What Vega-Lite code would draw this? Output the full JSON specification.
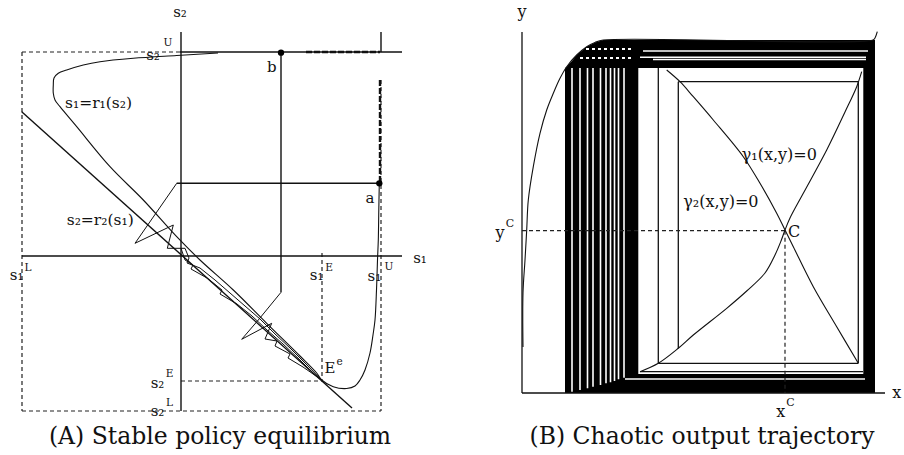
{
  "$schema": "https://vega.github.io/schema/vega-lite/v6.json",
  "padding": 0,
  "spacing": 10,
  "background": "white",
  "config": {"view": {"stroke": null}, "title": {"font": "DejaVu Serif", "fontSize": 23.5, "fontWeight": "normal", "color": "#111"}},
  "datasets": {
    "A_solid": [
      {"s1": -1, "s2": 204, "s1e": 221, "s2e": 204},
      {"s1": 200, "s2": 224, "s1e": 200, "s2e": 204},
      {"s1": 0, "s2": 224, "s1e": 0, "s2e": -155},
      {"s1": -159, "s2": 0, "s1e": 221, "s2e": 0},
      {"s1": 100, "s2": 203.3, "s1e": 100, "s2e": -36.3},
      {"s1": -4.3, "s2": 72.7, "s1e": 198.3, "s2e": 72.7},
      {"s1": -159.3, "s2": 144.3, "s1e": 171, "s2e": -152}
    ],
    "A_dashed": [
      {"s1": -159, "s2": 204, "s1e": -1, "s2e": 204},
      {"s1": -159, "s2": 204, "s1e": -159, "s2e": -155},
      {"s1": -159, "s2": -155, "s1e": 200, "s2e": -155},
      {"s1": 200, "s2": 176, "s1e": 200, "s2e": -155},
      {"s1": 141, "s2": 3, "s1e": 141, "s2e": -125},
      {"s1": 0, "s2": -125, "s1e": 141, "s2e": -125}
    ],
    "A_thick": [
      {"s1": 125, "s2": 204, "s1e": 199, "s2e": 204},
      {"s1": 199, "s2": 176, "s1e": 199, "s2e": 73}
    ],
    "A_curves": [
      {"c": "r1", "i": 1, "s1": 37, "s2": 203},
      {"c": "r1", "i": 2, "s1": -4.3, "s2": 200.5},
      {"c": "r1", "i": 3, "s1": -47.7, "s2": 197.7},
      {"c": "r1", "i": 4, "s1": -81, "s2": 194.3},
      {"c": "r1", "i": 5, "s1": -97.7, "s2": 191},
      {"c": "r1", "i": 6, "s1": -114.3, "s2": 186},
      {"c": "r1", "i": 7, "s1": -122.7, "s2": 182.7},
      {"c": "r1", "i": 8, "s1": -127, "s2": 178},
      {"c": "r1", "i": 9, "s1": -127.7, "s2": 171},
      {"c": "r1", "i": 10, "s1": -127.7, "s2": 162.7},
      {"c": "r1", "i": 11, "s1": -126, "s2": 156},
      {"c": "r1", "i": 12, "s1": -121, "s2": 149.3},
      {"c": "r1", "i": 13, "s1": -104.3, "s2": 129.3},
      {"c": "r1", "i": 14, "s1": -71, "s2": 89.3},
      {"c": "r1", "i": 15, "s1": -37.7, "s2": 56},
      {"c": "r1", "i": 16, "s1": -4.3, "s2": 19.3},
      {"c": "r1", "i": 17, "s1": 19, "s2": -4},
      {"c": "r1", "i": 18, "s1": 52.3, "s2": -34},
      {"c": "r1", "i": 19, "s1": 85.7, "s2": -67.3},
      {"c": "r1", "i": 20, "s1": 119, "s2": -100},
      {"c": "r1", "i": 21, "s1": 135.7, "s2": -117},
      {"c": "r1", "i": 22, "s1": 140.7, "s2": -124},
      {"c": "r1", "i": 23, "s1": 152.3, "s2": -130.7},
      {"c": "r1", "i": 24, "s1": 165.7, "s2": -132.5},
      {"c": "r1", "i": 25, "s1": 174, "s2": -130},
      {"c": "r1", "i": 26, "s1": 179, "s2": -124},
      {"c": "r1", "i": 27, "s1": 184, "s2": -114},
      {"c": "r1", "i": 28, "s1": 189, "s2": -97},
      {"c": "r1", "i": 29, "s1": 192, "s2": -79},
      {"c": "r1", "i": 30, "s1": 194, "s2": -64},
      {"c": "r1", "i": 31, "s1": 195.5, "s2": -34},
      {"c": "r1", "i": 32, "s1": 196.5, "s2": -4},
      {"c": "r1", "i": 33, "s1": 197.3, "s2": 16},
      {"c": "r1", "i": 34, "s1": 197.8, "s2": 46},
      {"c": "r1", "i": 35, "s1": 198.3, "s2": 72.7},
      {"c": "cobA", "i": 1, "s1": -4.3, "s2": 72.7},
      {"c": "cobA", "i": 2, "s1": -46, "s2": 12.7},
      {"c": "cobA", "i": 3, "s1": -7.7, "s2": 31},
      {"c": "cobA", "i": 4, "s1": -13.7, "s2": 7.7},
      {"c": "cobA", "i": 5, "s1": 4, "s2": 7.7},
      {"c": "cobA", "i": 6, "s1": 8, "s2": -2},
      {"c": "cobA", "i": 7, "s1": 6, "s2": -7},
      {"c": "cobA", "i": 8, "s1": 19, "s2": -12},
      {"c": "cobA", "i": 9, "s1": 34, "s2": -24},
      {"c": "cobA", "i": 10, "s1": 49, "s2": -37},
      {"c": "cobA", "i": 11, "s1": 64, "s2": -50},
      {"c": "cobA", "i": 12, "s1": 79, "s2": -63},
      {"c": "cobA", "i": 13, "s1": 94, "s2": -78},
      {"c": "cobA", "i": 14, "s1": 109, "s2": -92},
      {"c": "cobA", "i": 15, "s1": 124, "s2": -107},
      {"c": "cobA", "i": 16, "s1": 140.7, "s2": -124},
      {"c": "cobW", "i": 1, "s1": 0, "s2": 7.7},
      {"c": "cobW", "i": 2, "s1": 4, "s2": -4},
      {"c": "cobW", "i": 3, "s1": 12, "s2": -9},
      {"c": "cobW", "i": 4, "s1": 10, "s2": -13},
      {"c": "cobW", "i": 5, "s1": 26, "s2": -22},
      {"c": "cobW", "i": 6, "s1": 41, "s2": -34},
      {"c": "cobW", "i": 7, "s1": 39, "s2": -38},
      {"c": "cobW", "i": 8, "s1": 56, "s2": -48},
      {"c": "cobW", "i": 9, "s1": 71, "s2": -60},
      {"c": "cobW", "i": 10, "s1": 86, "s2": -74},
      {"c": "cobW", "i": 11, "s1": 102, "s2": -88},
      {"c": "cobW", "i": 12, "s1": 118, "s2": -103},
      {"c": "cobW", "i": 13, "s1": 132, "s2": -117},
      {"c": "cobW", "i": 14, "s1": 140.7, "s2": -124},
      {"c": "cobB", "i": 1, "s1": 100, "s2": -36.3},
      {"c": "cobB", "i": 2, "s1": 77.3, "s2": -64},
      {"c": "cobB", "i": 3, "s1": 60.7, "s2": -83.3},
      {"c": "cobB", "i": 4, "s1": 90.7, "s2": -67.3},
      {"c": "cobB", "i": 5, "s1": 84, "s2": -83},
      {"c": "cobB", "i": 6, "s1": 96, "s2": -85},
      {"c": "cobB", "i": 7, "s1": 94, "s2": -90},
      {"c": "cobB", "i": 8, "s1": 109, "s2": -98},
      {"c": "cobB", "i": 9, "s1": 107, "s2": -102},
      {"c": "cobB", "i": 10, "s1": 122, "s2": -111},
      {"c": "cobB", "i": 11, "s1": 140.7, "s2": -124}
    ],
    "A_points": [
      {"name": "a", "s1": 198.3, "s2": 72.7},
      {"name": "b", "s1": 100, "s2": 203.3}
    ],
    "A_text": [
      {"t": "s₂", "s1": -1, "s2": 244},
      {"t": "s₁", "s1": 239, "s2": -2},
      {"t": "s₂", "s1": -28, "s2": 201},
      {"t": "b", "s1": 90.7, "s2": 189.3},
      {"t": "a", "s1": 189, "s2": 58},
      {"t": "s₁", "s1": -164.3, "s2": -19},
      {"t": "s₁", "s1": 135.7, "s2": -19},
      {"t": "s₁", "s1": 193.3, "s2": -20},
      {"t": "s₂", "s1": -23.5, "s2": -127.3},
      {"t": "s₂", "s1": -23.5, "s2": -155},
      {"t": "E", "s1": 149, "s2": -112.3}
    ],
    "A_textL": [
      {"t": "s₁=r₁(s₂)", "s1": -116, "s2": 152.7},
      {"t": "s₂=r₂(s₁)", "s1": -114.3, "s2": 36}
    ],
    "A_sup": [
      {"t": "U", "s1": -13, "s2": 212.7},
      {"t": "L", "s1": -153, "s2": -12.3},
      {"t": "E", "s1": 148, "s2": -12.3},
      {"t": "U", "s1": 208, "s2": -11.3},
      {"t": "E", "s1": -11.5, "s2": -118},
      {"t": "L", "s1": -11.5, "s2": -147},
      {"t": "e", "s1": 158.5, "s2": -105.7}
    ],
    "B_area": [
      {"x": 43, "y": 325, "y0": 0},
      {"x": 44.7, "y": 326.3, "y0": 0},
      {"x": 50, "y": 332, "y0": 0},
      {"x": 54.7, "y": 338, "y0": 0},
      {"x": 64.7, "y": 346.3, "y0": 0},
      {"x": 73, "y": 350.5, "y0": 0},
      {"x": 81.3, "y": 353, "y0": 0},
      {"x": 116.3, "y": 353, "y0": 0}
    ],
    "B_rect": [
      {"x": 81.3, "xe": 353, "y": 325, "ye": 353},
      {"x": 341.3, "xe": 353, "y": 0, "ye": 353},
      {"x": 98, "xe": 353, "y": 0, "ye": 19}
    ],
    "B_white": [
      {"x": 50, "y": 1.3, "xe": 50, "ye": 325},
      {"x": 58, "y": 3, "xe": 58, "ye": 325},
      {"x": 65.5, "y": 4.7, "xe": 65.5, "ye": 325},
      {"x": 71, "y": 6.3, "xe": 71, "ye": 325},
      {"x": 78.5, "y": 8, "xe": 78.5, "ye": 325},
      {"x": 84, "y": 9.7, "xe": 84, "ye": 325},
      {"x": 88.5, "y": 10.7, "xe": 88.5, "ye": 325},
      {"x": 92.5, "y": 12, "xe": 92.5, "ye": 325},
      {"x": 96.5, "y": 13.7, "xe": 96.5, "ye": 325},
      {"x": 102, "y": 15.3, "xe": 102, "ye": 325},
      {"x": 118, "y": 335.7, "xe": 344, "ye": 335.7},
      {"x": 121, "y": 342, "xe": 346, "ye": 342},
      {"x": 131, "y": 333.5, "xe": 344, "ye": 333.5},
      {"x": 103, "y": 14, "xe": 343, "ye": 14}
    ],
    "B_dots": [
      {"x": 58, "y": 344, "xe": 112, "ye": 344},
      {"x": 58, "y": 335, "xe": 112, "ye": 335}
    ],
    "B_lines": [
      {"x": 136.3, "y": 325, "xe": 136.3, "ye": 29.7},
      {"x": 136.3, "y": 29.7, "xe": 336.3, "ye": 29.7},
      {"x": 336.3, "y": 29.7, "xe": 336.3, "ye": 311.3},
      {"x": 156.3, "y": 311.3, "xe": 336.3, "ye": 311.3},
      {"x": 156.3, "y": 311.3, "xe": 156.3, "ye": 44.7},
      {"x": 118, "y": 21.3, "xe": 341, "ye": 21.3},
      {"x": 0, "y": 361, "xe": 0, "ye": 0},
      {"x": 0, "y": 0, "xe": 363, "ye": 0}
    ],
    "B_dashed": [
      {"x": 0, "y": 162.3, "xe": 263, "ye": 162.3},
      {"x": 263, "y": 162.3, "xe": 263, "ye": 0}
    ],
    "B_curves": [
      {"c": "outer", "i": 1, "x": 1, "y": 46},
      {"c": "outer", "i": 2, "x": 1, "y": 100},
      {"c": "outer", "i": 3, "x": 3, "y": 133},
      {"c": "outer", "i": 4, "x": 4.7, "y": 163},
      {"c": "outer", "i": 5, "x": 6.3, "y": 193},
      {"c": "outer", "i": 6, "x": 11.3, "y": 226.3},
      {"c": "outer", "i": 7, "x": 18, "y": 259.7},
      {"c": "outer", "i": 8, "x": 24.7, "y": 283},
      {"c": "outer", "i": 9, "x": 31.3, "y": 299.7},
      {"c": "outer", "i": 10, "x": 38, "y": 314.7},
      {"c": "outer", "i": 11, "x": 44.7, "y": 326.3},
      {"c": "outer", "i": 12, "x": 54.7, "y": 338},
      {"c": "outer", "i": 13, "x": 64.7, "y": 346.3},
      {"c": "outer", "i": 14, "x": 73, "y": 350.5},
      {"c": "outer", "i": 15, "x": 81.3, "y": 353},
      {"c": "outer", "i": 16, "x": 351, "y": 353},
      {"c": "outer", "i": 17, "x": 353, "y": 355},
      {"c": "outer", "i": 18, "x": 355.3, "y": 361.3},
      {"c": "g1", "i": 1, "x": 144.7, "y": 323},
      {"c": "g1", "i": 2, "x": 158, "y": 311.3},
      {"c": "g1", "i": 3, "x": 171.3, "y": 296.3},
      {"c": "g1", "i": 4, "x": 191.3, "y": 273},
      {"c": "g1", "i": 5, "x": 221.3, "y": 236.3},
      {"c": "g1", "i": 6, "x": 238, "y": 209.7},
      {"c": "g1", "i": 7, "x": 254.7, "y": 179.7},
      {"c": "g1", "i": 8, "x": 263, "y": 163},
      {"c": "g1", "i": 9, "x": 271.3, "y": 146.3},
      {"c": "g1", "i": 10, "x": 291.3, "y": 106.3},
      {"c": "g1", "i": 11, "x": 314.7, "y": 66.3},
      {"c": "g1", "i": 12, "x": 336.3, "y": 29.7},
      {"c": "g2", "i": 1, "x": 339.7, "y": 321.3},
      {"c": "g2", "i": 2, "x": 334.7, "y": 306.3},
      {"c": "g2", "i": 3, "x": 323, "y": 281},
      {"c": "g2", "i": 4, "x": 304.7, "y": 243},
      {"c": "g2", "i": 5, "x": 281.3, "y": 199.7},
      {"c": "g2", "i": 6, "x": 268, "y": 175},
      {"c": "g2", "i": 7, "x": 263, "y": 163},
      {"c": "g2", "i": 8, "x": 259, "y": 152},
      {"c": "g2", "i": 9, "x": 253, "y": 138},
      {"c": "g2", "i": 10, "x": 243, "y": 120},
      {"c": "g2", "i": 11, "x": 224.7, "y": 102},
      {"c": "g2", "i": 12, "x": 204.7, "y": 84.7},
      {"c": "g2", "i": 13, "x": 171.3, "y": 58},
      {"c": "g2", "i": 14, "x": 156.3, "y": 44.7},
      {"c": "g2", "i": 15, "x": 136.3, "y": 29.7},
      {"c": "g2", "i": 16, "x": 118, "y": 21.3}
    ],
    "B_text": [
      {"t": "y", "x": 0, "y": 381},
      {"t": "x", "x": 374.7, "y": 0},
      {"t": "y", "x": -22, "y": 159.7},
      {"t": "x", "x": 258.7, "y": -18.7}
    ],
    "B_textL": [
      {"t": "C", "x": 266, "y": 161.3},
      {"t": "γ₁(x,y)=0", "x": 219.7, "y": 238},
      {"t": "γ₂(x,y)=0", "x": 161.3, "y": 191.3}
    ],
    "B_sup": [
      {"t": "C", "x": -12, "y": 169.5},
      {"t": "C", "x": 268.5, "y": -10.3}
    ]
  },
  "hconcat": [
    {
      "width": 450,
      "height": 420,
      "title": {"text": "(A) Stable policy equilibrium", "orient": "bottom", "anchor": "middle", "offset": 5, "dx": -5},
      "layer": [
        {
          "data": {"name": "A_dashed"},
          "mark": {"type": "rule", "color": "#222", "strokeWidth": 1.2, "strokeDash": [4, 3]},
          "encoding": {
            "x": {"field": "s1", "type": "quantitative", "scale": {"domain": [-181, 269], "nice": false, "zero": false}, "axis": null},
            "y": {"field": "s2", "type": "quantitative", "scale": {"domain": [-164, 256], "nice": false, "zero": false}, "axis": null},
            "x2": {"field": "s1e"},
            "y2": {"field": "s2e"}
          }
        },
        {
          "data": {"name": "A_solid"},
          "mark": {"type": "rule", "color": "#111", "strokeWidth": 1.4},
          "encoding": {
            "x": {"field": "s1", "type": "quantitative", "scale": {"domain": [-181, 269], "nice": false, "zero": false}, "axis": null},
            "y": {"field": "s2", "type": "quantitative", "scale": {"domain": [-164, 256], "nice": false, "zero": false}, "axis": null},
            "x2": {"field": "s1e"},
            "y2": {"field": "s2e"}
          }
        },
        {
          "data": {"name": "A_thick"},
          "mark": {"type": "rule", "color": "#111", "strokeWidth": 2.4, "strokeDash": [6, 2]},
          "encoding": {
            "x": {"field": "s1", "type": "quantitative", "scale": {"domain": [-181, 269], "nice": false, "zero": false}, "axis": null},
            "y": {"field": "s2", "type": "quantitative", "scale": {"domain": [-164, 256], "nice": false, "zero": false}, "axis": null},
            "x2": {"field": "s1e"},
            "y2": {"field": "s2e"}
          }
        },
        {
          "data": {"name": "A_curves"},
          "transform": [{"filter": "datum.c == 'r1'"}],
          "mark": {"type": "line", "color": "#111", "strokeWidth": 1.1, "interpolate": "catmull-rom"},
          "encoding": {
            "x": {"field": "s1", "type": "quantitative", "scale": {"domain": [-181, 269], "nice": false, "zero": false}, "axis": null},
            "y": {"field": "s2", "type": "quantitative", "scale": {"domain": [-164, 256], "nice": false, "zero": false}, "axis": null},
            "detail": {"field": "c"},
            "order": {"field": "i", "type": "quantitative"}
          }
        },
        {
          "data": {"name": "A_curves"},
          "transform": [{"filter": "datum.c != 'r1'"}],
          "mark": {"type": "line", "color": "#111", "strokeWidth": 1, "interpolate": "linear"},
          "encoding": {
            "x": {"field": "s1", "type": "quantitative", "scale": {"domain": [-181, 269], "nice": false, "zero": false}, "axis": null},
            "y": {"field": "s2", "type": "quantitative", "scale": {"domain": [-164, 256], "nice": false, "zero": false}, "axis": null},
            "detail": {"field": "c"},
            "order": {"field": "i", "type": "quantitative"}
          }
        },
        {
          "data": {"name": "A_points"},
          "mark": {"type": "point", "filled": true, "color": "#000", "size": 40, "opacity": 1},
          "encoding": {
            "x": {"field": "s1", "type": "quantitative", "scale": {"domain": [-181, 269], "nice": false, "zero": false}, "axis": null},
            "y": {"field": "s2", "type": "quantitative", "scale": {"domain": [-164, 256], "nice": false, "zero": false}, "axis": null}
          }
        },
        {
          "data": {"name": "A_text"},
          "mark": {"type": "text", "font": "DejaVu Serif", "fontSize": 15, "color": "#111", "align": "center", "baseline": "middle"},
          "encoding": {
            "x": {"field": "s1", "type": "quantitative", "scale": {"domain": [-181, 269], "nice": false, "zero": false}, "axis": null},
            "y": {"field": "s2", "type": "quantitative", "scale": {"domain": [-164, 256], "nice": false, "zero": false}, "axis": null},
            "text": {"field": "t"}
          }
        },
        {
          "data": {"name": "A_textL"},
          "mark": {"type": "text", "font": "DejaVu Serif", "fontSize": 15.5, "color": "#111", "align": "left", "baseline": "middle"},
          "encoding": {
            "x": {"field": "s1", "type": "quantitative", "scale": {"domain": [-181, 269], "nice": false, "zero": false}, "axis": null},
            "y": {"field": "s2", "type": "quantitative", "scale": {"domain": [-164, 256], "nice": false, "zero": false}, "axis": null},
            "text": {"field": "t"}
          }
        },
        {
          "data": {"name": "A_sup"},
          "mark": {"type": "text", "font": "DejaVu Serif", "fontSize": 10.5, "color": "#111", "align": "center", "baseline": "middle"},
          "encoding": {
            "x": {"field": "s1", "type": "quantitative", "scale": {"domain": [-181, 269], "nice": false, "zero": false}, "axis": null},
            "y": {"field": "s2", "type": "quantitative", "scale": {"domain": [-164, 256], "nice": false, "zero": false}, "axis": null},
            "text": {"field": "t"}
          }
        }
      ]
    },
    {
      "width": 444,
      "height": 420,
      "title": {"text": "(B) Chaotic output trajectory", "orient": "bottom", "anchor": "middle", "offset": 5, "dx": 20},
      "layer": [
        {
          "data": {"name": "B_area"},
          "mark": {"type": "area", "color": "#000", "opacity": 1},
          "encoding": {
            "x": {"field": "x", "type": "quantitative", "scale": {"domain": [-62, 382], "nice": false, "zero": false}, "axis": null},
            "y": {"field": "y", "type": "quantitative", "scale": {"domain": [-27, 393], "nice": false, "zero": false}, "axis": null},
            "y2": {"field": "y0"}
          }
        },
        {
          "data": {"name": "B_rect"},
          "mark": {"type": "rect", "color": "#000", "opacity": 1},
          "encoding": {
            "x": {"field": "x", "type": "quantitative", "scale": {"domain": [-62, 382], "nice": false, "zero": false}, "axis": null},
            "y": {"field": "y", "type": "quantitative", "scale": {"domain": [-27, 393], "nice": false, "zero": false}, "axis": null},
            "x2": {"field": "xe"},
            "y2": {"field": "ye"}
          }
        },
        {
          "data": {"name": "B_white"},
          "mark": {"type": "rule", "color": "#fff", "strokeWidth": 1.6},
          "encoding": {
            "x": {"field": "x", "type": "quantitative", "scale": {"domain": [-62, 382], "nice": false, "zero": false}, "axis": null},
            "y": {"field": "y", "type": "quantitative", "scale": {"domain": [-27, 393], "nice": false, "zero": false}, "axis": null},
            "x2": {"field": "xe"},
            "y2": {"field": "ye"}
          }
        },
        {
          "data": {"name": "B_dots"},
          "mark": {"type": "rule", "color": "#fff", "strokeWidth": 2, "strokeDash": [3, 3]},
          "encoding": {
            "x": {"field": "x", "type": "quantitative", "scale": {"domain": [-62, 382], "nice": false, "zero": false}, "axis": null},
            "y": {"field": "y", "type": "quantitative", "scale": {"domain": [-27, 393], "nice": false, "zero": false}, "axis": null},
            "x2": {"field": "xe"},
            "y2": {"field": "ye"}
          }
        },
        {
          "data": {"name": "B_lines"},
          "mark": {"type": "rule", "color": "#111", "strokeWidth": 1.3},
          "encoding": {
            "x": {"field": "x", "type": "quantitative", "scale": {"domain": [-62, 382], "nice": false, "zero": false}, "axis": null},
            "y": {"field": "y", "type": "quantitative", "scale": {"domain": [-27, 393], "nice": false, "zero": false}, "axis": null},
            "x2": {"field": "xe"},
            "y2": {"field": "ye"}
          }
        },
        {
          "data": {"name": "B_dashed"},
          "mark": {"type": "rule", "color": "#222", "strokeWidth": 1.2, "strokeDash": [4, 3]},
          "encoding": {
            "x": {"field": "x", "type": "quantitative", "scale": {"domain": [-62, 382], "nice": false, "zero": false}, "axis": null},
            "y": {"field": "y", "type": "quantitative", "scale": {"domain": [-27, 393], "nice": false, "zero": false}, "axis": null},
            "x2": {"field": "xe"},
            "y2": {"field": "ye"}
          }
        },
        {
          "data": {"name": "B_curves"},
          "mark": {"type": "line", "color": "#111", "strokeWidth": 1.1, "interpolate": "catmull-rom"},
          "encoding": {
            "x": {"field": "x", "type": "quantitative", "scale": {"domain": [-62, 382], "nice": false, "zero": false}, "axis": null},
            "y": {"field": "y", "type": "quantitative", "scale": {"domain": [-27, 393], "nice": false, "zero": false}, "axis": null},
            "detail": {"field": "c"},
            "order": {"field": "i", "type": "quantitative"}
          }
        },
        {
          "data": {"name": "B_text"},
          "mark": {"type": "text", "font": "DejaVu Serif", "fontSize": 16, "color": "#111", "align": "center", "baseline": "middle"},
          "encoding": {
            "x": {"field": "x", "type": "quantitative", "scale": {"domain": [-62, 382], "nice": false, "zero": false}, "axis": null},
            "y": {"field": "y", "type": "quantitative", "scale": {"domain": [-27, 393], "nice": false, "zero": false}, "axis": null},
            "text": {"field": "t"}
          }
        },
        {
          "data": {"name": "B_textL"},
          "mark": {"type": "text", "font": "DejaVu Serif", "fontSize": 16, "color": "#111", "align": "left", "baseline": "middle"},
          "encoding": {
            "x": {"field": "x", "type": "quantitative", "scale": {"domain": [-62, 382], "nice": false, "zero": false}, "axis": null},
            "y": {"field": "y", "type": "quantitative", "scale": {"domain": [-27, 393], "nice": false, "zero": false}, "axis": null},
            "text": {"field": "t"}
          }
        },
        {
          "data": {"name": "B_sup"},
          "mark": {"type": "text", "font": "DejaVu Serif", "fontSize": 11, "color": "#111", "align": "center", "baseline": "middle"},
          "encoding": {
            "x": {"field": "x", "type": "quantitative", "scale": {"domain": [-62, 382], "nice": false, "zero": false}, "axis": null},
            "y": {"field": "y", "type": "quantitative", "scale": {"domain": [-27, 393], "nice": false, "zero": false}, "axis": null},
            "text": {"field": "t"}
          }
        }
      ]
    }
  ]
}
